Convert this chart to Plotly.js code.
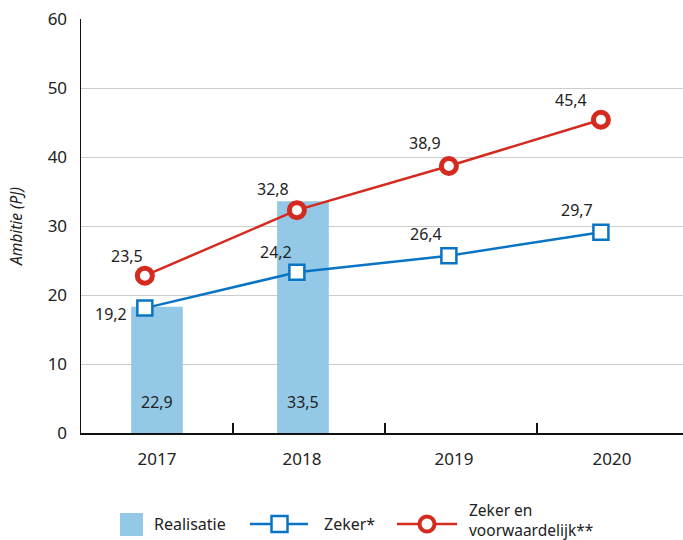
<!DOCTYPE html>
<html>
<head>
<meta charset="utf-8">
<script src="https://cdn.plot.ly/plotly-3.0.1.min.js"></script>
<style>html,body{margin:0;padding:0;background:#fff}#chart{width:683px;height:540px}</style>
</head>
<body>
<div id="chart"></div>
<script>
// ---- data ----
const years = ['2017', '2018', '2019', '2020'];
const realisatie = [18.3, 33.6, null, null];
const realisatieLabels = ['22,9', '33,5', '', ''];
const zeker = [18.1, 23.3, 25.7, 29.1];
const zekerLabels = ['19,2', '24,2', '26,4', '29,7'];
const voorwaardelijk = [22.8, 32.3, 38.7, 45.4];
const voorwaardelijkLabels = ['23,5', '32,8', '38,9', '45,4'];
const yTicks = [0, 10, 20, 30, 40, 50, 60];
const legendNames = ['Realisatie', 'Zeker*', 'Zeker en<br>voorwaardelijk**'];

// ---- styling ----
const FONT = 'Noto Sans, Open Sans, sans-serif';
const TXT = '#222222';
const BLUE = '#0a74c4';
const RED = '#d42a1f';
const BARC = '#93c9e6';
const lineOffset = -0.08;
const barOffset = [0, -0.04, 0, 0];
const tickOffset = [0, -0.046, -0.046, -0.007];

const idx = years.map((_, i) => i);
const lineX = idx.map(i => i + lineOffset);
const barX = idx.map(i => i + barOffset[i]);

const traces = [
  {
    type: 'bar', name: legendNames[0], x: barX, y: realisatie,
    width: 0.34, marker: {color: BARC}, hoverinfo: 'skip'
  },
  {
    type: 'scatter', mode: 'lines+markers', name: legendNames[1], x: lineX, y: zeker,
    line: {color: BLUE, width: 2.5},
    marker: {symbol: 'square', size: 15, color: '#fff', line: {color: BLUE, width: 2.5}}
  },
  {
    type: 'scatter', mode: 'lines+markers', name: legendNames[2], x: lineX, y: voorwaardelijk,
    line: {color: RED, width: 2.5},
    marker: {symbol: 'circle', size: 15, color: '#fff', line: {color: RED, width: 5}}
  }
];

const annotations = [];
const redShift = [[-17.5, 20], [-24, 21], [-24, 23], [-30, 20]];
const blueShift = [[-34, -6], [-21, 20], [-23, 22], [-24, 22]];
voorwaardelijk.forEach((v, i) => annotations.push({
  x: lineX[i], y: v, xref: 'x', yref: 'y', text: voorwaardelijkLabels[i], showarrow: false,
  xshift: redShift[i][0], yshift: redShift[i][1], font: {family: FONT, size: 16, color: TXT}
}));
zeker.forEach((v, i) => annotations.push({
  x: lineX[i], y: v, xref: 'x', yref: 'y', text: zekerLabels[i], showarrow: false,
  xshift: blueShift[i][0], yshift: blueShift[i][1], font: {family: FONT, size: 16, color: TXT}
}));
realisatie.forEach((v, i) => { if (v !== null) annotations.push({
  x: barX[i], y: 0, xref: 'x', yref: 'y', text: realisatieLabels[i], showarrow: false,
  yshift: 31, font: {family: FONT, size: 16, color: TXT}
}); });

// ---- manual legend (pixel helpers) ----
const L = 81, W = 602, B = 433, H = 414;
const px = v => (v - L) / W;
const py = v => (B - v) / H;
const shapes = [
  {type: 'rect', xref: 'paper', yref: 'paper', x0: px(120), x1: px(143), y0: py(536), y1: py(513), fillcolor: BARC, line: {width: 0}},
  {type: 'line', xref: 'paper', yref: 'paper', x0: px(250), x1: px(308), y0: py(524), y1: py(524), line: {color: BLUE, width: 2.5}},
  {type: 'rect', xref: 'paper', yref: 'paper', x0: px(271.5), x1: px(287.5), y0: py(532), y1: py(516), fillcolor: '#fff', line: {color: BLUE, width: 2.5}},
  {type: 'line', xref: 'paper', yref: 'paper', x0: px(397), x1: px(457), y0: py(524), y1: py(524), line: {color: RED, width: 2.5}},
  {type: 'circle', xref: 'paper', yref: 'paper', x0: px(419.5), x1: px(434.5), y0: py(531.5), y1: py(516.5), fillcolor: '#fff', line: {color: RED, width: 4}}
];
[[152, 524, legendNames[0], 16], [322, 524, legendNames[1], 16], [467, 519.5, legendNames[2], 15.5]].forEach(([x, y, t, s]) => annotations.push({
  xref: 'paper', yref: 'paper', x: px(x), y: py(y), xanchor: 'left', yanchor: 'middle', align: 'left',
  text: t, showarrow: false, font: {family: FONT, size: s, color: TXT}
}));

const layout = {
  width: 683, height: 540,
  margin: {l: 81, r: 0, t: 19, b: 107},
  paper_bgcolor: '#fff', plot_bgcolor: '#fff',
  font: {family: FONT, size: 16, color: TXT},
  showlegend: false,
  xaxis: {
    range: [-0.5, 3.46], tickmode: 'array', tickvals: idx.map(i => i + tickOffset[i]), ticktext: years,
    ticks: '', showgrid: false, zeroline: false,
    showline: true, linecolor: '#111', linewidth: 1.5,
    ticklabelstandoff: 10, tickfont: {family: FONT, size: 17, color: TXT},
    minor: {tickmode: 'array', tickvals: [0.5, 1.5, 2.5], ticks: 'inside', ticklen: 10, tickcolor: '#111', tickwidth: 1.2, showgrid: false}
  },
  yaxis: {
    range: [0, 60], tickmode: 'array', tickvals: yTicks,
    showgrid: true, gridcolor: '#cccccc', gridwidth: 1, zeroline: false,
    showline: true, linecolor: '#111', linewidth: 1.5, ticks: '',
    ticklabelstandoff: 9, tickfont: {family: FONT, size: 17, color: TXT},
    title: {text: '<i>Ambitie (PJ)</i>', standoff: 21, font: {family: FONT, size: 15.5, color: TXT}}
  },
  shapes: shapes,
  annotations: annotations
};

Plotly.newPlot('chart', traces, layout, {displayModeBar: false, staticPlot: true});
</script>
</body>
</html>
